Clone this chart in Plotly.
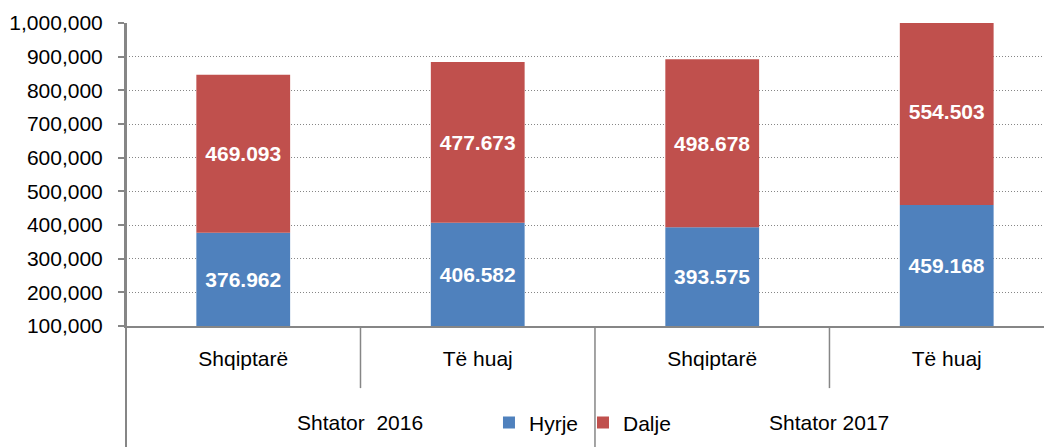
import plotly.graph_objects as go

# ---- data ----
years = ["Shtator\u00a0 2016", "Shtator\u00a0 2016", "Shtator 2017", "Shtator 2017"]
groups = ["Shqiptarë", "Të huaj", "Shqiptarë", "Të huaj"]
hyrje = [376962, 406582, 393575, 459168]
dalje = [469093, 477673, 498678, 554503]
series_names = ["Hyrje", "Dalje"]
y_ticks = [100000, 200000, 300000, 400000, 500000, 600000, 700000, 800000, 900000, 1000000]
Y_MIN, Y_MAX = y_ticks[0], y_ticks[-1]

# ---- style ----
FONT = "Liberation Sans, Arial, sans-serif"
FS = 21
GREY = "#868686"
BLUE = "#4F81BD"
RED = "#C0504D"
X_RANGE = [-0.5, 3.449]

cats = [f"{y}|{g}" for y, g in zip(years, groups)]


def fmt(v):
    return f"{v:,}".replace(",", ".")


def xp(v):
    return (v - X_RANGE[0]) / (X_RANGE[1] - X_RANGE[0])


fig = go.Figure()
# Hyrje: the part below the axis minimum is hidden anyway (as in the original),
# so the bar is drawn from the axis minimum so its label centres in the visible part.
fig.add_bar(
    x=cats, y=[h - Y_MIN for h in hyrje], base=Y_MIN, name=series_names[0],
    marker_color=BLUE, marker_line_width=0, width=0.4,
    text=[fmt(v) for v in hyrje], textposition="inside",
    insidetextanchor="middle", textangle=0,
    textfont=dict(color="white", size=FS, family=FONT, weight="bold"),
)
fig.add_bar(
    x=cats, y=dalje, base=hyrje, name=series_names[1],
    marker_color=RED, marker_line_width=0, width=0.4,
    text=[fmt(v) for v in dalje], textposition="inside",
    insidetextanchor="middle", textangle=0,
    textfont=dict(color="white", size=FS, family=FONT, weight="bold"),
)

shapes = []
# y-axis line extended down through the label area
shapes.append(dict(type="line", xref="paper", yref="paper", x0=0, x1=0, y0=1, y1=-0.42,
                   line=dict(color=GREY, width=2)))
# dividers
for pos, depth in [(0.5, -0.205), (1.5, -0.42), (2.5, -0.205)]:
    shapes.append(dict(type="line", xref="paper", yref="paper", x0=xp(pos), x1=xp(pos),
                       y0=0, y1=depth, line=dict(color=GREY, width=1.5)))

annotations = []
for pos, lab in [(0.5, years[0]), (2.5, years[2])]:
    annotations.append(dict(x=pos, xref="x", y=-0.32, yref="paper", text=lab,
                            showarrow=False, xanchor="center", yanchor="middle",
                            font=dict(family=FONT, size=FS, color="black")))

# page body has an 8px margin: figure is shifted by 8px right/down
fig.update_layout(
    width=1044, height=439,
    margin=dict(l=118, r=0, t=15, b=121, autoexpand=False),
    barmode="overlay",
    plot_bgcolor="white", paper_bgcolor="white",
    font=dict(family=FONT, size=FS, color="black"),
    showlegend=True,
    legend=dict(orientation="h", x=xp(1.5) - 0.0135, xanchor="center", y=-0.32, yanchor="middle",
                font=dict(family=FONT, size=FS, color="black"),
                bgcolor="rgba(0,0,0,0)", traceorder="normal"),
    shapes=shapes,
    annotations=annotations,
    xaxis=dict(
        type="category", range=X_RANGE, automargin=False,
        tickvals=cats, ticktext=groups,
        showline=True, linecolor=GREY, linewidth=1.5,
        ticks="", showgrid=False, zeroline=False,
        ticklabelstandoff=13,
        tickfont=dict(family=FONT, size=FS, color="black"),
    ),
    yaxis=dict(
        range=[Y_MIN, Y_MAX], tickvals=y_ticks, tickformat=",d", automargin=False,
        showline=True, linecolor=GREY, linewidth=2,
        ticks="outside", ticklen=6, tickcolor=GREY, tickwidth=1.5,
        showgrid=True, gridcolor=GREY, gridwidth=1, griddash="1px,2px",
        zeroline=False,
        ticklabelstandoff=11,
        tickfont=dict(family=FONT, size=FS, color="black"),
    ),
)

fig.write_html("out.html")
